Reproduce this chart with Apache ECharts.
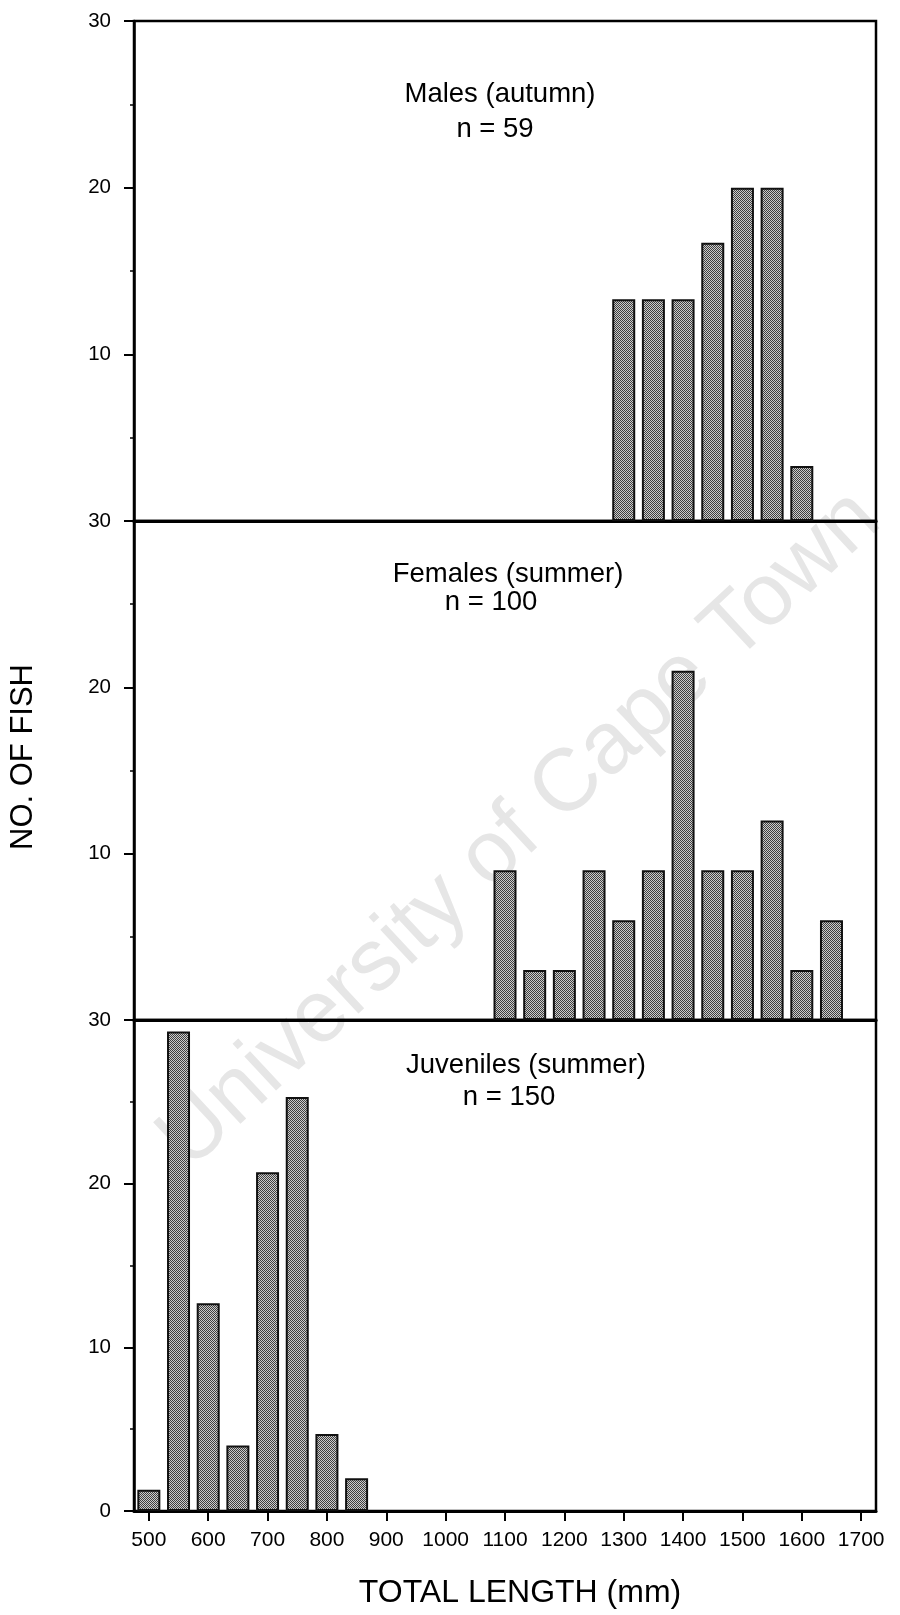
<!DOCTYPE html>
<html>
<head>
<meta charset="utf-8">
<script src="https://cdn.jsdelivr.net/npm/echarts@6/dist/echarts.min.js"></script>
<style>
html,body{margin:0;padding:0;background:#fff;}
#chart{width:900px;height:1615px;}
</style>
</head>
<body>
<div id="chart"></div>
<script>
// ---- data ----
const xTickValues = [500, 600, 700, 800, 900, 1000, 1100, 1200, 1300, 1400, 1500, 1600, 1700];
const malesLengths = [1300, 1350, 1400, 1450, 1500, 1550, 1600];
const malesCounts = [13.3, 13.3, 13.3, 16.7, 20.0, 20.0, 3.3];
const femalesLengths = [1100, 1150, 1200, 1250, 1300, 1350, 1400, 1450, 1500, 1550, 1600, 1650];
const femalesCounts = [9, 3, 3, 9, 6, 9, 21, 9, 9, 12, 3, 6];
const juvenilesLengths = [500, 550, 600, 650, 700, 750, 800, 850];
const juvenilesCounts = [1.3, 29.3, 12.7, 4.0, 20.7, 25.3, 4.7, 2.0];
const panelTitles = ['Males (autumn)', 'Females (summer)', 'Juveniles (summer)'];
const panelSizes = ['n = 59', 'n = 100', 'n = 150'];
const xAxisTitle = 'TOTAL LENGTH (mm)';
const yAxisTitle = 'NO. OF FISH';
const watermark = 'University of Cape Town';

// ---- pattern fill for bars ----
function makePattern() {
  const c = document.createElement('canvas');
  c.width = 2; c.height = 2;
  const ctx = c.getContext('2d');
  ctx.fillStyle = '#cccccc';
  ctx.fillRect(0, 0, 2, 2);
  ctx.fillStyle = '#404040';
  ctx.fillRect(0, 0, 1, 1);
  ctx.fillRect(1, 1, 1, 1);
  return c;
}
const pattern = { image: makePattern(), repeat: 'repeat' };

const FONT = "'Liberation Sans', Arial, Helvetica, sans-serif";
const grids = [
  { left: 134, right: 24, top: 21, height: 500 },
  { left: 134, right: 24, top: 521, height: 499 },
  { left: 134, right: 24, top: 1020, height: 491 }
];

function xAxisFor(i) {
  const last = i === 2;
  return {
    type: 'value', gridIndex: i, min: 475, max: 1725,
    axisLine: { show: true, onZero: false, lineStyle: { color: '#000', width: 3 } },
    axisTick: { show: last, customValues: xTickValues, length: 10, lineStyle: { color: '#000', width: 2 } },
    axisLabel: {
      show: last, customValues: xTickValues, margin: 19, color: '#000', fontSize: 21, fontFamily: FONT,
      formatter: function (v) { return String(v); }
    },
    splitLine: { show: false }
  };
}
function yAxisFor(i) {
  return {
    type: 'value', gridIndex: i, min: 0, max: 30, interval: 10,
    axisLine: { show: true, lineStyle: { color: '#000', width: 2.5 } },
    axisTick: { show: true, length: 10, lineStyle: { color: '#000', width: 2 } },
    minorTick: { show: true, splitNumber: 2, length: 4, lineStyle: { color: '#000', width: 1.5 } },
    axisLabel: {
      margin: 23, color: '#000', fontSize: 20.5, fontFamily: FONT,
      formatter: function (v) { return (v === 0 && i < 2) ? '' : String(v); }
    },
    splitLine: { show: false }
  };
}
function barSeries(i, xs, ys) {
  return {
    type: 'bar', xAxisIndex: i, yAxisIndex: i,
    data: xs.map((x, k) => [x, ys[k]]),
    barWidth: 23,
    itemStyle: { color: pattern, borderColor: '#111', borderWidth: 2 },
    silent: true
  };
}

const titlePos = [
  [[500, 94], [495, 129]],
  [[508, 574], [491, 602]],
  [[526, 1065], [509, 1097]]
];
function txt(text, x, y, size, extra) {
  return Object.assign({
    type: 'text', x: x, y: y,
    style: {
      text: text, fill: '#000', font: size + 'px ' + FONT,
      align: 'center', verticalAlign: 'middle',
      textAlign: 'center', textVerticalAlign: 'middle'
    }
  }, extra || {});
}
const graphics = [];
graphics.push({
  type: 'text', x: 520, y: 830, rotation: Math.PI * 43 / 180, z: -10,
  style: {
    text: watermark, fill: '#e6e6e6', font: '88px ' + FONT,
    align: 'center', verticalAlign: 'middle', textAlign: 'center', textVerticalAlign: 'middle'
  }
});
for (let i = 0; i < 3; i++) {
  graphics.push(txt(panelTitles[i], titlePos[i][0][0], titlePos[i][0][1], 27.5));
  graphics.push(txt(panelSizes[i], titlePos[i][1][0], titlePos[i][1][1], 27.5));
}
graphics.push(txt(xAxisTitle, 520, 1593, 32));
graphics.push(txt(yAxisTitle, 23, 757, 31, { rotation: Math.PI / 2 }));

const chart = echarts.init(document.getElementById('chart'), null, { renderer: 'canvas' });
chart.setOption({
  backgroundColor: '#fff',
  animation: false,
  grid: grids.map(g => Object.assign({ show: true, borderColor: '#000', borderWidth: 2.5, backgroundColor: 'transparent' }, g)),
  xAxis: [0, 1, 2].map(xAxisFor),
  yAxis: [0, 1, 2].map(yAxisFor),
  series: [
    barSeries(0, malesLengths, malesCounts),
    barSeries(1, femalesLengths, femalesCounts),
    barSeries(2, juvenilesLengths, juvenilesCounts)
  ],
  graphic: graphics
});
</script>
</body>
</html>
